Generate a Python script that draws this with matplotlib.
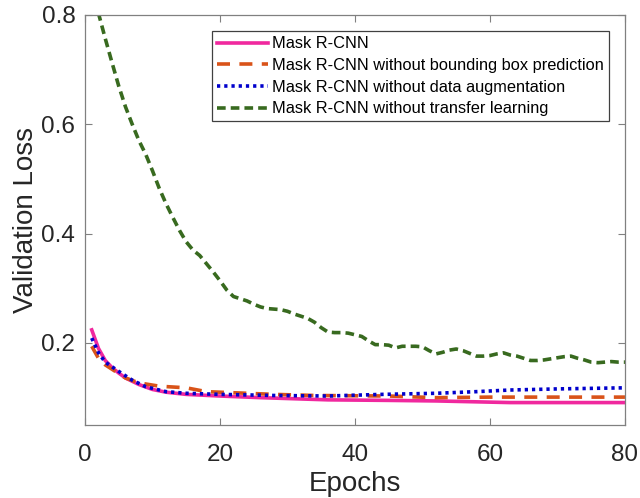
import matplotlib
matplotlib.use("Agg")
import matplotlib.pyplot as plt

plt.rcParams["font.family"] = ["Liberation Sans", "DejaVu Sans"]

# values
ep_mask = [1, 2, 3, 4, 5, 6, 8, 10, 12, 15, 20, 26, 36, 45, 52, 63, 70, 80]
loss_mask = [0.224, 0.19, 0.168, 0.155, 0.145, 0.136, 0.124, 0.115, 0.11, 0.106,
             0.103, 0.100, 0.096, 0.095, 0.094, 0.091, 0.091, 0.091]

ep_nobbox = [1, 2, 3, 4, 6, 8, 11, 15, 18, 22, 28, 34, 45, 52, 60, 70, 80]
loss_nobbox = [0.194, 0.172, 0.16, 0.152, 0.136, 0.127, 0.121, 0.118, 0.111, 0.109,
               0.106, 0.104, 0.103, 0.100, 0.101, 0.101, 0.101]

ep_noaug = [1, 2, 3, 5, 7, 9, 12, 15, 20, 28, 36, 44, 52, 58, 63, 70, 80]
loss_noaug = [0.209, 0.182, 0.165, 0.148, 0.132, 0.12, 0.111, 0.108, 0.106, 0.104,
              0.103, 0.106, 0.108, 0.111, 0.114, 0.116, 0.118]

ep_notl = [1, 2, 3, 4, 5, 6, 7, 8, 9, 10, 11, 12, 13, 14, 15, 16, 17, 18, 19, 20,
           21, 22, 23, 24, 25, 26, 27, 28, 29, 30, 31, 32, 33, 34, 35, 36, 37, 38,
           39, 40, 41, 42, 43, 44, 45, 46, 47, 48, 49, 50, 51, 52, 53, 54, 55, 56,
           57, 58, 59, 60, 61, 62, 63, 64, 65, 66, 67, 68, 69, 70, 71, 72, 73, 74,
           75, 76, 77, 78, 79, 80]
loss_notl = [0.85, 0.803, 0.757, 0.713, 0.67, 0.632, 0.6, 0.57, 0.545, 0.515,
             0.483, 0.455, 0.43, 0.406, 0.385, 0.37, 0.36, 0.345, 0.33, 0.314,
             0.297, 0.285, 0.281, 0.277, 0.271, 0.266, 0.263, 0.262, 0.261, 0.258,
             0.253, 0.249, 0.245, 0.238, 0.228, 0.22, 0.219, 0.219, 0.218, 0.215,
             0.212, 0.204, 0.197, 0.197, 0.196, 0.191, 0.194, 0.194, 0.194, 0.193,
             0.186, 0.18, 0.183, 0.187, 0.189, 0.186, 0.181, 0.176, 0.176, 0.177,
             0.18, 0.182, 0.178, 0.176, 0.172, 0.168, 0.168, 0.169, 0.171, 0.173,
             0.175, 0.176, 0.172, 0.169, 0.165, 0.164, 0.165, 0.166, 0.165, 0.165]

labels = ["Mask R-CNN",
          "Mask R-CNN without bounding box prediction",
          "Mask R-CNN without data augmentation",
          "Mask R-CNN without transfer learning"]

fig = plt.figure(figsize=(6.4, 4.98), dpi=100)
ax = fig.add_axes([0.1328, 0.1466, 0.8437, 0.8233])

lw = 2.6
ax.plot(ep_mask, loss_mask, color="#F0289E", lw=lw, label=labels[0])
ax.plot(ep_nobbox, loss_nobbox, color="#D95319", lw=lw, ls=(0, (3.6, 2.6)), label=labels[1])
ax.plot(ep_noaug, loss_noaug, color="#0000CC", lw=lw, ls=(0, (0.9, 1.1)), label=labels[2])
ax.plot(ep_notl, loss_notl, color="#386A1F", lw=lw, ls=(0, (2.4, 1.4)), label=labels[3])

ax.set_xlim(0, 80)
ax.set_ylim(0.05, 0.8)
ax.set_xticks([0, 20, 40, 60, 80])
ax.set_yticks([0.2, 0.4, 0.6, 0.8])
ax.tick_params(direction="in", length=5, width=0.8, top=True, right=True,
               labelsize=17.5, colors="#808080", labelcolor="#262626")
ax.tick_params(axis="x", pad=14)
ax.tick_params(axis="y", pad=7)
for s in ax.spines.values():
    s.set_color("#808080")
    s.set_linewidth(0.9)

ax.set_xlabel("Epochs", fontsize=20, color="#262626", labelpad=3)
ax.set_ylabel("Validation Loss", fontsize=20, color="#262626", labelpad=2)

leg = ax.legend(loc="upper right", fontsize=11.8, frameon=True, fancybox=False,
                edgecolor="#404040", framealpha=1, borderaxespad=1.0,
                handlelength=3.1, handletextpad=0.25, labelspacing=0.41,
                borderpad=0.3)
leg.get_frame().set_linewidth(0.9)

fig.savefig("out.png", dpi=100)
